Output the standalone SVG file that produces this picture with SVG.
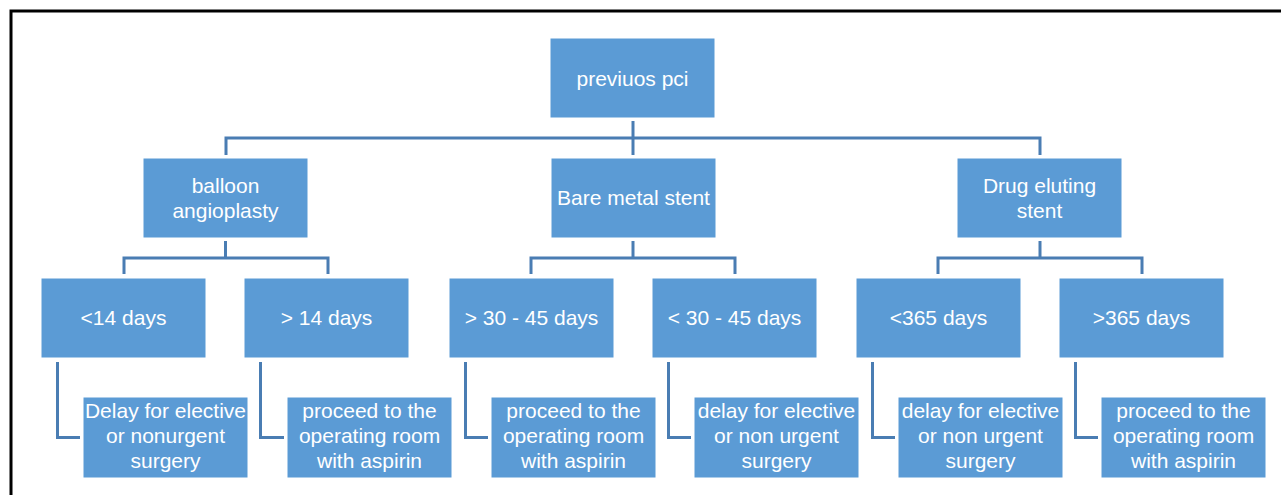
<svg xmlns="http://www.w3.org/2000/svg" width="1281" height="495" viewBox="0 0 1281 495">
<style>
.box{fill:#5B9BD5;stroke:#ffffff;stroke-width:1}
.t{font-family:"Liberation Sans",Arial,sans-serif;font-size:21px;fill:#ffffff;text-anchor:middle}
.c{fill:none;stroke:#4A7DB3;stroke-width:3;stroke-linejoin:miter}
.frame{fill:none;stroke:#000000;stroke-width:3}
</style>
<rect width="1281" height="495" fill="#ffffff"/>
<path class="frame" d="M11,495 V11 H1281"/>
<g id="connectors">
<path class="c" d="M633,121 V155"/>
<path class="c" d="M226,155 V138 H1040 V155"/>
<path class="c" d="M225.5,241 V258"/>
<path class="c" d="M124,274 V258 H328 V274"/>
<path class="c" d="M633,241 V258"/>
<path class="c" d="M531,274 V258 H735 V274"/>
<path class="c" d="M1040,241 V258"/>
<path class="c" d="M938,274 V258 H1142 V274"/>
<path class="c" d="M57.5,362 V437.5 H80"/>
<path class="c" d="M260.5,362 V437.5 H284"/>
<path class="c" d="M465.5,362 V437.5 H488"/>
<path class="c" d="M668.5,362 V437.5 H691"/>
<path class="c" d="M872.5,362 V437.5 H895"/>
<path class="c" d="M1075.5,362 V437.5 H1098"/>
</g>
<g id="n-root"><rect class="box" x="550" y="38" width="165" height="80"/><text class="t" x="632.5" y="86">previuos pci</text></g>
<g id="n-balloon"><rect class="box" x="143" y="158" width="165" height="80"/><text class="t" x="225.5" y="193">balloon</text><text class="t" x="225.5" y="218">angioplasty</text></g>
<g id="n-bms"><rect class="box" x="551" y="158" width="165" height="80"/><text class="t" x="633.5" y="205">Bare metal stent</text></g>
<g id="n-des"><rect class="box" x="957" y="158" width="165" height="80"/><text class="t" x="1039.5" y="193">Drug eluting</text><text class="t" x="1039.5" y="218">stent</text></g>
<g id="n-lt14"><rect class="box" x="41" y="278" width="165" height="80"/><text class="t" x="123.5" y="325">&lt;14 days</text></g>
<g id="n-gt14"><rect class="box" x="244" y="278" width="165" height="80"/><text class="t" x="326.5" y="325">&gt; 14 days</text></g>
<g id="n-gt30"><rect class="box" x="449" y="278" width="165" height="80"/><text class="t" x="531.5" y="325">&gt; 30 - 45 days</text></g>
<g id="n-lt30"><rect class="box" x="652" y="278" width="165" height="80"/><text class="t" x="734.5" y="325">&lt; 30 - 45 days</text></g>
<g id="n-lt365"><rect class="box" x="856" y="278" width="165" height="80"/><text class="t" x="938.5" y="325">&lt;365 days</text></g>
<g id="n-gt365"><rect class="box" x="1059" y="278" width="165" height="80"/><text class="t" x="1141.5" y="325">&gt;365 days</text></g>
<g id="n-delay1"><rect class="box" x="83" y="397" width="165" height="81"/><text class="t" x="165.5" y="418">Delay for elective</text><text class="t" x="165.5" y="443">or nonurgent</text><text class="t" x="165.5" y="468">surgery</text></g>
<g id="n-proceed1"><rect class="box" x="287" y="397" width="165" height="81"/><text class="t" x="369.5" y="418">proceed to the</text><text class="t" x="369.5" y="443">operating room</text><text class="t" x="369.5" y="468">with aspirin</text></g>
<g id="n-proceed2"><rect class="box" x="491" y="397" width="165" height="81"/><text class="t" x="573.5" y="418">proceed to the</text><text class="t" x="573.5" y="443">operating room</text><text class="t" x="573.5" y="468">with aspirin</text></g>
<g id="n-delay2"><rect class="box" x="694" y="397" width="165" height="81"/><text class="t" x="776.5" y="418">delay for elective</text><text class="t" x="776.5" y="443">or non urgent</text><text class="t" x="776.5" y="468">surgery</text></g>
<g id="n-delay3"><rect class="box" x="898" y="397" width="165" height="81"/><text class="t" x="980.5" y="418">delay for elective</text><text class="t" x="980.5" y="443">or non urgent</text><text class="t" x="980.5" y="468">surgery</text></g>
<g id="n-proceed3"><rect class="box" x="1101" y="397" width="165" height="81"/><text class="t" x="1183.5" y="418">proceed to the</text><text class="t" x="1183.5" y="443">operating room</text><text class="t" x="1183.5" y="468">with aspirin</text></g>
</svg>
